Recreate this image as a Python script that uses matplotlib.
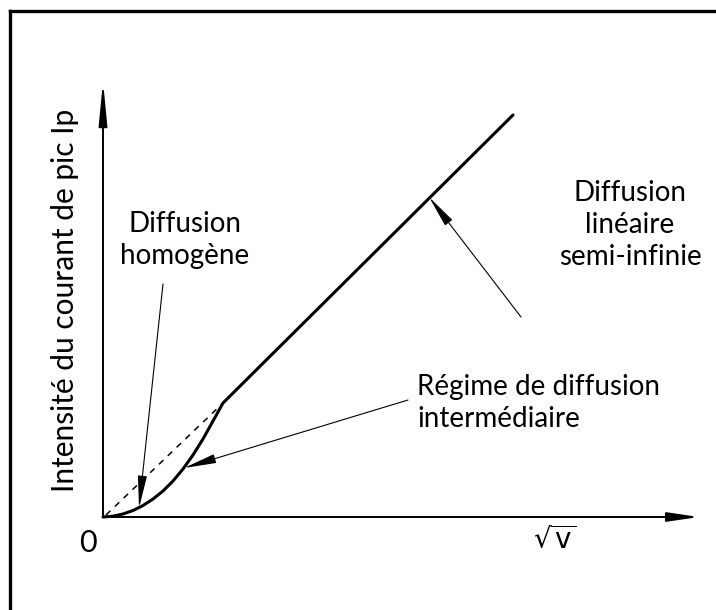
import matplotlib
matplotlib.use("Agg")
import matplotlib.pyplot as plt
from matplotlib.lines import Line2D

plt.rcParams['font.family'] = ['Lato', 'DejaVu Sans']

# ---- data (sqrt(v) vs peak current Ip, arbitrary units) ----
sqrt_v = [0.00, 0.10, 0.20, 0.30, 0.40, 0.50, 0.60, 0.70, 0.80, 0.90, 1.00, 1.10, 1.20, 4.10]
ip     = [0.00, 0.008, 0.03, 0.065, 0.115, 0.18, 0.26, 0.36, 0.48, 0.62, 0.78, 0.96, 1.14, 4.02]
dash_x = [0.03, 1.20]
dash_y = [0.02, 1.14]

label_y = "Intensité du courant de pic Ip"
label_x = r"$\sqrt{\mathrm{v}}$"
label_0 = "0"
txt_homog = "Diffusion\nhomogène"
txt_inter = "Régime de diffusion\nintermédiaire"
txt_lin = "Diffusion\nlinéaire\nsemi-infinie"

# annotation (tip, tail) in data units
arr_homog = ((0.36, 0.09), (0.60, 2.33))
arr_inter = ((0.81, 0.49), (3.05, 1.17))
arr_lin = ((3.26, 3.20), (4.18, 2.00))
axis_x_end = 5.96
axis_y_end = 4.36

fig = plt.figure(figsize=(7.16, 6.10), dpi=100)
ax = fig.add_axes([0, 0, 1, 1])
ax.set_xlim(-1.03, 6.13)
ax.set_ylim(-0.93, 5.17)
ax.axis('off')

# frame (top and left edges)
fig.add_artist(Line2D([0.0140, 0.0140], [0.0, 0.9820], transform=fig.transFigure, color='black', lw=2.4))
fig.add_artist(Line2D([0.0140, 1.0], [0.9820, 0.9820], transform=fig.transFigure, color='black', lw=2.4))

# axes arrows
ax.annotate("", xy=(0, axis_y_end), xytext=(0, 0),
            arrowprops=dict(arrowstyle="-|>,head_length=2.6,head_width=0.25", mutation_scale=10,
                            lw=1.4, color='black', shrinkA=0, shrinkB=0))
ax.annotate("", xy=(axis_x_end, 0), xytext=(0, 0),
            arrowprops=dict(arrowstyle="-|>,head_length=1.9,head_width=0.28", mutation_scale=10,
                            lw=1.4, color='black', shrinkA=0, shrinkB=0))

# curves
ax.plot(sqrt_v, ip, color='black', lw=2.2, solid_capstyle='round', solid_joinstyle='round')
ax.plot(dash_x, dash_y, color='black', lw=1.1, linestyle=(0, (4, 4)))

# annotation arrows
for tip, tail in (arr_homog, arr_inter, arr_lin):
    ax.annotate("", xy=tip, xytext=tail,
                arrowprops=dict(arrowstyle="-|>,head_length=2.0,head_width=0.28", mutation_scale=10,
                                lw=0.8, color='black', shrinkA=0, shrinkB=0))

fs = 20
ax.text(0.82, 2.77, txt_homog, ha='center', va='center', fontsize=fs, linespacing=1.3)
ax.text(3.14, 1.14, txt_inter, ha='left', va='center', fontsize=fs, linespacing=1.3)
ax.text(5.27, 2.92, txt_lin, ha='center', va='center', fontsize=fs, linespacing=1.3)
ax.text(-0.15, -0.26, label_0, ha='center', va='center', fontsize=fs + 2)
ax.text(4.52, -0.22, label_x, ha='center', va='center', fontsize=fs)
ax.text(-0.38, 2.17, label_y, ha='center', va='center', rotation=90, fontsize=21.5)

fig.savefig("out.png", dpi=100)
